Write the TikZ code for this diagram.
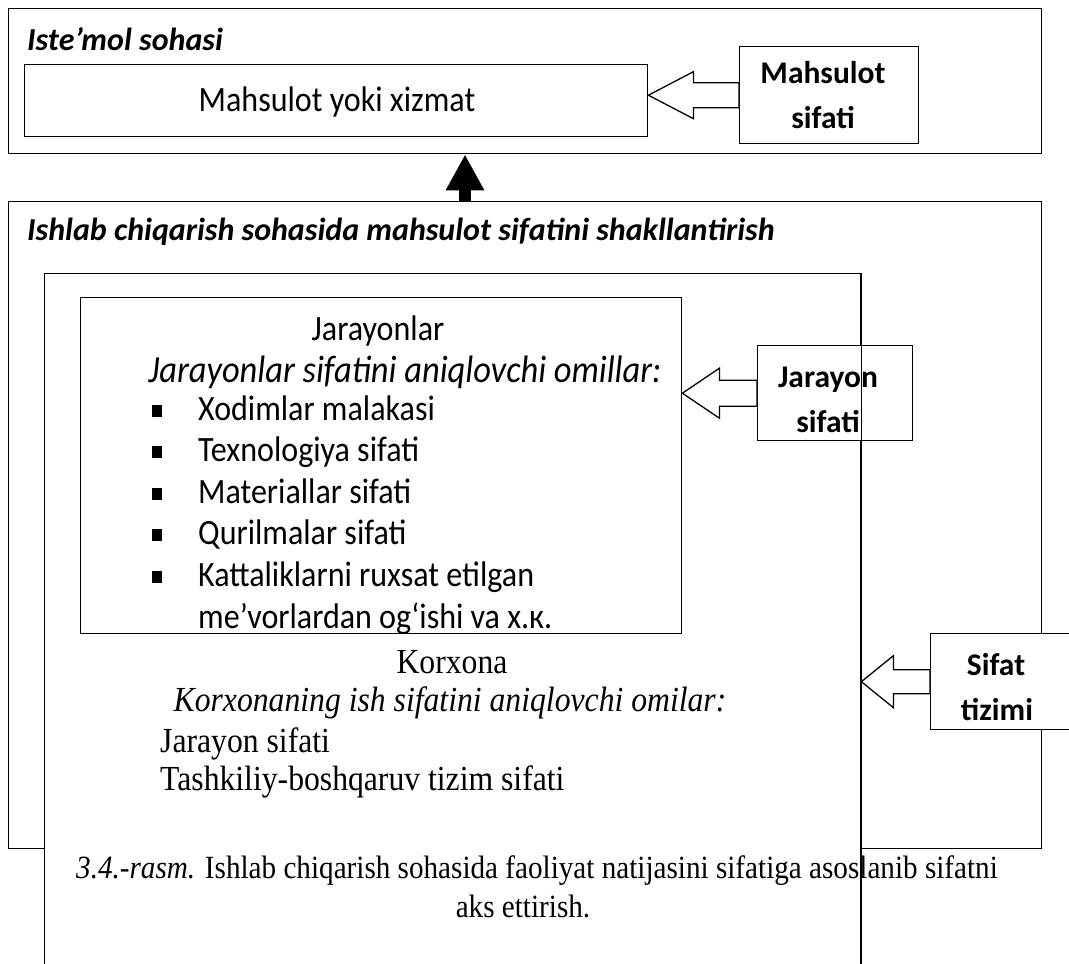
\documentclass[tikz,border=0pt]{standalone}
\usepackage{fontspec}
\setmainfont{Carlito}
\newfontfamily\narrowsans[FakeStretch=0.9]{Carlito}
\newfontfamily\tnr[FakeStretch=0.9]{Liberation Serif}
\usetikzlibrary{arrows.meta,calc}

\tikzset{
  frame/.style={draw=black, line width=1.4pt, fill=white, rectangle,
                inner sep=0pt, anchor=north west},
  hollow/.style={draw=black, line width=1.3pt, fill=white, line join=miter},
  txt/.style={inner sep=0pt, font=\narrowsans\fontsize{35.6}{40}\selectfont},
  ital/.style={inner sep=0pt, font=\narrowsans\fontsize{38.3}{44}\selectfont\itshape},
  bold/.style={inner sep=0pt, font=\fontsize{31.5}{38}\selectfont\bfseries},
  head/.style={inner sep=0pt, font=\fontsize{32}{38}\selectfont\bfseries\itshape},
  serif/.style={inner sep=0pt, font=\tnr\fontsize{35.2}{40}\selectfont},
  serifit/.style={inner sep=0pt, font=\tnr\fontsize{35.2}{40}\selectfont\itshape},
  capt/.style={inner sep=0pt, font=\tnr\fontsize{32.4}{38}\selectfont},
  bul/.style={fill=black, inner sep=0pt, minimum width=10pt, minimum height=12pt, anchor=south west},
}

% hollow block arrow from a quality box (#2) to the box it acts on (#1)
% #3 head length, #4 half head width, #5 half shaft width
\newcommand\qarrow[5]{%
  \draw[hollow] (#1.east |- #2.west) coordinate (tip-#2)
    -- ++(#3,-#4) -- ++(0,#4-#5)
    -- ($(#2.west)+(0,-#5)$) -- ($(#2.west)+(0,#5)$)
    -- ($(tip-#2)+(#3,#5)$) -- ($(tip-#2)+(#3,#4)$) -- cycle;
}

\begin{document}
\begin{tikzpicture}[x=1pt, y=-1pt]
\useasboundingbox (0,0) rectangle (1069,964);
\clip (0,0) rectangle (1069,964);

% consumption sphere
\node[frame, minimum width=1033pt, minimum height=145pt] (cons) at (8,8) {};
\node[head, anchor=base west] (consT) at (27,50) {Iste’mol sohasi};
\node[frame, minimum width=623pt, minimum height=72pt] (prod) at (24,64) {};
\node[txt, anchor=base] (prodT) at (337,111) {Mahsulot yoki xizmat};
\node[frame, minimum width=179pt, minimum height=97pt] (psif) at (739,46) {};
\node[bold, anchor=base] (psifA) at (823,83) {Mahsulot};
\node[bold, anchor=base] (psifB) at (823,128) {sifati};
\qarrow{prod}{psif}{45}{23.5}{12.5}

% production sphere
\node[frame, minimum width=1033pt, minimum height=647pt] (manu) at (8,201) {};
\node[head, anchor=base west] (manuT) at (27,240) {Ishlab chiqarish sohasida mahsulot sifatini shakllantirish};

% enterprise
\node[frame, minimum width=816pt, minimum height=760pt] (korx) at (44,273) {};

% processes
\node[frame, minimum width=601pt, minimum height=336pt] (proc) at (80,297) {};
\node[txt, anchor=base] (procT) at (378,340) {Jarayonlar};
\node[ital, anchor=base] (procS) at (405,382) {Jarayonlar sifatini aniqlovchi omillar:};
\begin{scope}
  \clip (proc.north west) rectangle (proc.south east);
  \foreach \t [count=\i from 0] in {Xodimlar malakasi, Texnologiya sifati,
      Materiallar sifati, Qurilmalar sifati, Kattaliklarni ruxsat etilgan} {
    \node[bul] (b\i) at (152,{420+41.5*\i-3}) {};
    \node[txt, anchor=base west] (l\i) at (198,{420+41.5*\i}) {\t};
  }
  \node[txt, anchor=base west] (l5) at (198,628) {me’vorlardan og‘ishi va х.к.};
\end{scope}

\node[frame, minimum width=155pt, minimum height=95pt] (jsif) at (757,345) {};
\node[bold, anchor=base] (jsifA) at (828,387) {Jarayon};
\node[bold, anchor=base] (jsifB) at (828,432) {sifati};
\qarrow{proc}{jsif}{37}{25}{13}

% quality system
\node[frame, minimum width=160pt, minimum height=96pt] (ssif) at (930,633) {};
\node[bold, anchor=base] (ssifA) at (996,675) {Sifat};
\node[bold, anchor=base] (ssifB) at (997,720) {tizimi};
\qarrow{korx}{ssif}{32}{26}{12}

% enterprise text
\node[serif, anchor=base] (korxT) at (452,673) {Korxona};
\node[serifit, anchor=base] (korxS) at (450,711) {Korxonaning ish sifatini aniqlovchi omilar:};
\node[serif, anchor=base west] (korxA) at (160,752) {Jarayon sifati};
\node[serif, anchor=base west] (korxB) at (160,790) {Tashkiliy-boshqaruv tizim sifati};

% caption
\node[capt, anchor=base] (capA) at (537,878) {\textit{3.4.-rasm.} Ishlab chiqarish sohasida faoliyat natijasini sifatiga asoslanib sifatni};
\node[capt, anchor=base] (capB) at (523,917) {aks ettirish.};
\draw[line width=1.4pt] (korx.north east) -- (korx.south east);

% production feeds consumption
\coordinate (upx) at (465,0);
\draw[line width=12pt, -{Triangle[width=36pt,length=36pt]}]
  (manu.north -| upx) -- (cons.south -| upx);
\end{tikzpicture}
\end{document}
